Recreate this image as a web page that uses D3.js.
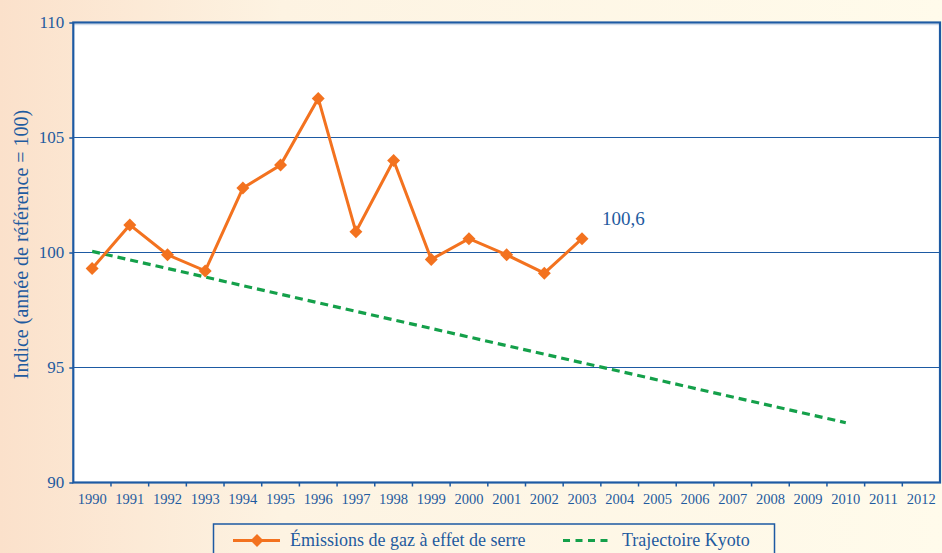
<!DOCTYPE html>
<html><head><meta charset="utf-8">
<script src="https://cdn.jsdelivr.net/npm/d3@7"></script>
<style>body{margin:0;}svg{display:block;}text{font-family:"Liberation Serif","Times New Roman",serif;}</style>
</head><body>
<svg id="c" width="942" height="553"></svg>
<script>
const years = d3.range(1990, 2013).map(String);
const emissionYears = ["1990","1991","1992","1993","1994","1995","1996","1997","1998","1999","2000","2001","2002","2003"];
const emissionValues = [99.3,101.2,99.9,99.2,102.8,103.8,106.7,100.9,104.0,99.7,100.6,99.9,99.1,100.6];
const kyotoYears = ["1990","2010"];
const kyotoValues = [100.05, 92.6];
const yTicks = [90,95,100,105,110];
const lastLabel = "100,6";

const svg = d3.select("#c");
const W = 942, H = 553;
const blue = "#1d5aa3", textBlue = "#1f5b9f", orange = "#f3721f", green = "#14a04a";

const defs = svg.append("defs");
const g = defs.append("linearGradient").attr("id","bg").attr("x1",0).attr("x2",1).attr("y1",0).attr("y2",0);
g.append("stop").attr("offset","0%").attr("stop-color","#fbe1cb");
g.append("stop").attr("offset","30%").attr("stop-color","#fdf3e2");
g.append("stop").attr("offset","100%").attr("stop-color","#fffbeb");
svg.append("rect").attr("width",W).attr("height",H).attr("fill","url(#bg)");

const L = 73.3, R = 940, T = 22.5, B = 482.5;
const x = d3.scaleBand().domain(years).range([L, R]).padding(0);
const y = d3.scaleLinear().domain([90,110]).range([B, T]);
const cx = d => x(d) + x.bandwidth()/2;

svg.append("rect").attr("x",L).attr("y",T).attr("width",R-L).attr("height",B-T).attr("fill","#fff");

// gridlines
svg.append("g").selectAll("line").data(yTicks.filter(v=>v>90 && v<110)).join("line")
  .attr("x1",L).attr("x2",R).attr("y1",d=>y(d)).attr("y2",d=>y(d))
  .attr("stroke",blue).attr("stroke-width",1.1);

svg.append("line").attr("x1",L).attr("x2",R).attr("y1",T+2.2).attr("y2",T+2.2).attr("stroke","#c9d6e6").attr("stroke-width",1);

// frame
svg.append("rect").attr("x",L).attr("y",T).attr("width",R-L).attr("height",B-T)
  .attr("fill","none").attr("stroke",blue).attr("stroke-width",2.2);

// y axis
const yAxis = d3.axisLeft(y).tickValues(yTicks).tickSize(4).tickPadding(5).tickFormat(d3.format("d"));
const ya = svg.append("g").attr("transform",`translate(${L},0)`).call(yAxis);
ya.select(".domain").remove();
ya.selectAll("line").attr("stroke",blue).attr("stroke-width",1.5);
ya.selectAll("text").attr("fill",textBlue).attr("font-family",null).style("font-size","17px").attr("dy","0.32em");

// x axis ticks at band edges
const xa = svg.append("g");
xa.selectAll("line").data(years.slice(1)).join("line")
  .attr("x1",d=>x(d)).attr("x2",d=>x(d)).attr("y1",B).attr("y2",B+4)
  .attr("stroke",blue).attr("stroke-width",1.5);
xa.selectAll("text").data(years).join("text")
  .attr("x",d=>cx(d)).attr("y",B+21).attr("text-anchor","middle")
  .attr("fill",textBlue).style("font-size","14.5px")
  .attr("textLength",29).attr("lengthAdjust","spacingAndGlyphs")
  .text(d=>d);

// y title
svg.append("text").attr("transform",`translate(28,${(T+B)/2 - 8}) rotate(-90)`)
  .attr("text-anchor","middle").attr("fill",textBlue)
  .style("font-size","20px")
  .text("Indice (année de référence = 100)");

// Kyoto line
const kyoto = kyotoYears.map((d,i)=>[cx(d), y(kyotoValues[i])]);
svg.append("path").attr("d",d3.line()(kyoto)).attr("fill","none")
  .attr("stroke",green).attr("stroke-width",3.2).attr("stroke-dasharray","8,5");

// emissions line
const em = emissionYears.map((d,i)=>[cx(d), y(emissionValues[i])]);
svg.append("path").attr("d",d3.line()(em)).attr("fill","none")
  .attr("stroke",orange).attr("stroke-width",3).attr("stroke-linejoin","miter");
const diamond = d3.symbol().type(d3.symbolSquare).size(84);
svg.append("g").selectAll("path").data(em).join("path")
  .attr("d",diamond()).attr("transform",d=>`translate(${d[0]},${d[1]}) rotate(45)`)
  .attr("fill",orange);

// last label
const li = emissionYears.length-1;
svg.append("text").attr("x",cx(emissionYears[li])+20).attr("y",y(emissionValues[li])-14)
  .attr("fill",textBlue).style("font-size","19px").text(lastLabel);

// legend
const lg = svg.append("g");
lg.append("rect").attr("x",213.5).attr("y",524).attr("width",561).attr("height",40)
  .attr("fill","none").attr("stroke",blue).attr("stroke-width",1.5);
lg.append("line").attr("x1",233).attr("x2",280).attr("y1",540.5).attr("y2",540.5).attr("stroke",orange).attr("stroke-width",3);
lg.append("path").attr("d",diamond()).attr("transform","translate(257,540.5) rotate(45)").attr("fill",orange);
lg.append("text").attr("x",290).attr("y",546).attr("fill",textBlue).style("font-size","18px").text("Émissions de gaz à effet de serre");
lg.append("line").attr("x1",563).attr("x2",610).attr("y1",540.5).attr("y2",540.5).attr("stroke",green).attr("stroke-width",3.2).attr("stroke-dasharray","7,5.5");
lg.append("text").attr("x",622).attr("y",546).attr("fill",textBlue).style("font-size","18px").text("Trajectoire Kyoto");
</script>
</body></html>
